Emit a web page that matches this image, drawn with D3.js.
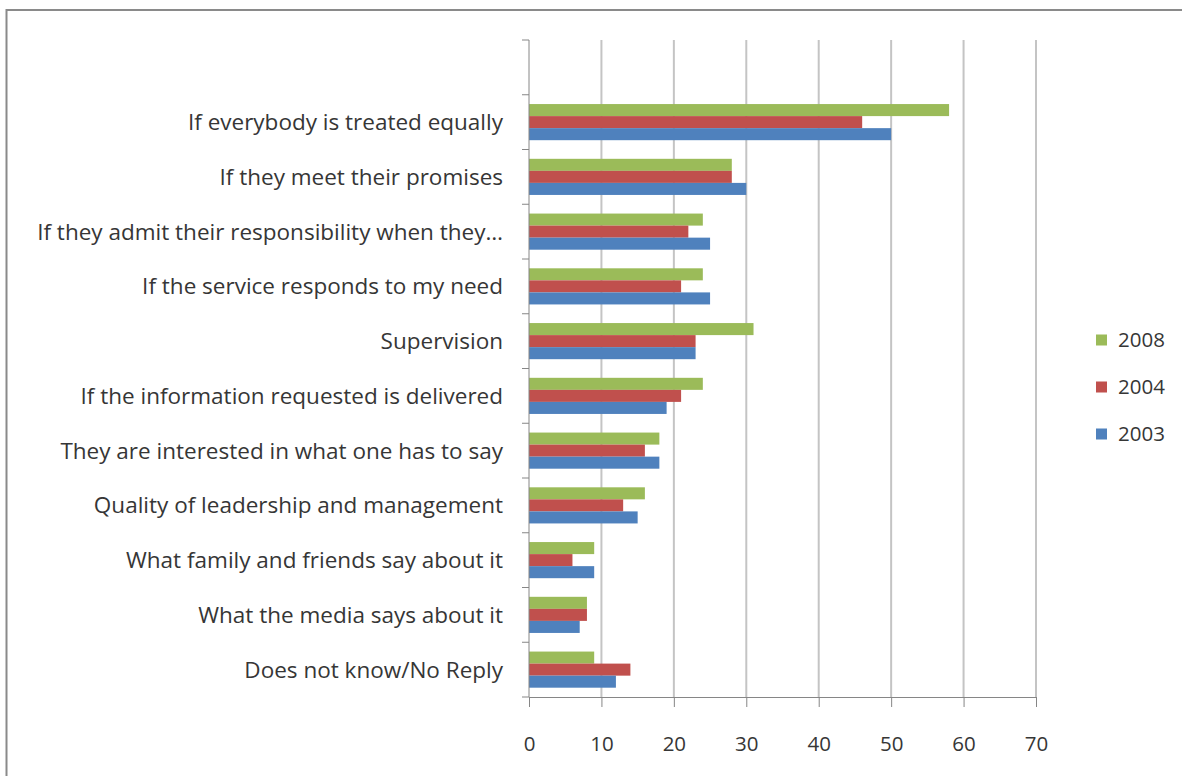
<!DOCTYPE html>
<html>
<head>
<meta charset="utf-8">
<script src="https://cdn.jsdelivr.net/npm/d3@7"></script>
<style>
  html, body { margin: 0; padding: 0; background: #fff; }
  svg { display: block; }
  text { font-family: "Open Sans", Lato, sans-serif; fill: #363636; }
</style>
</head>
<body>
<svg id="chart" width="1182" height="776"></svg>
<script>
// Reasons for trusting a public service, share of answers (%) by survey year
const categories = [
  "If everybody is treated equally",
  "If they meet their promises",
  "If they admit their responsibility when they\u2026",
  "If the service responds to my need",
  "Supervision",
  "If the information requested is delivered",
  "They are interested in what one has to say",
  "Quality of leadership and management",
  "What family and friends say about it",
  "What the media says about it",
  "Does not know/No Reply"
];
const years = ["2008", "2004", "2003"];
const values2008 = [58, 28, 24, 24, 31, 24, 18, 16, 9, 8, 9];
const values2004 = [46, 28, 22, 21, 23, 21, 16, 13, 6, 8, 14];
const values2003 = [50, 30, 25, 25, 23, 19, 18, 15, 9, 7, 12];
const xTicks = [0, 10, 20, 30, 40, 50, 60, 70];
const colors = ["#9BBB59", "#C0504D", "#4F81BD"];

const seriesValues = [values2008, values2004, values2003];

const svg = d3.select("#chart");

// chart frame
svg.append("rect")
  .attr("x", 6.5).attr("y", 10)
  .attr("width", 1200).attr("height", 800)
  .attr("fill", "none")
  .attr("stroke", "#8a8a8a")
  .attr("stroke-width", 2);

const plot = { left: 529, right: 1036, top: 40, bottom: 697 };
// one empty slot sits above the first category
const slots = categories.length + 1;
const step = (plot.bottom - plot.top) / slots;

const x = d3.scaleLinear().domain([0, 70]).range([plot.left, plot.right]);
const y = d3.scaleBand()
  .domain(categories)
  .range([plot.bottom - categories.length * step, plot.bottom])
  .paddingInner(0.34)
  .paddingOuter(0.17);
const ySub = d3.scaleBand().domain(years).range([0, y.bandwidth()]);

// vertical gridlines
svg.append("g")
  .selectAll("line")
  .data(xTicks.filter(d => d > 0))
  .join("line")
  .attr("x1", d => x(d)).attr("x2", d => x(d))
  .attr("y1", plot.top).attr("y2", plot.bottom)
  .attr("stroke", "#c4c4c4")
  .attr("stroke-width", 2);

// bars
const groups = svg.append("g")
  .selectAll("g")
  .data(categories)
  .join("g")
  .attr("transform", d => `translate(0,${y(d)})`);

groups.selectAll("rect")
  .data((c, i) => years.map((yr, s) => ({ yr, s, v: seriesValues[s][i] })))
  .join("rect")
  .attr("x", x(0))
  .attr("y", d => ySub(d.yr))
  .attr("width", d => x(d.v) - x(0))
  .attr("height", ySub.bandwidth())
  .attr("fill", d => colors[d.s]);

// category axis with ticks on the slot boundaries
const axisColor = "#868686";
const boundaries = d3.range(slots + 1).map(i => plot.top + i * step);
const yAxis = svg.append("g");
yAxis.append("line")
  .attr("x1", plot.left).attr("x2", plot.left)
  .attr("y1", plot.top).attr("y2", plot.bottom)
  .attr("stroke", axisColor);
yAxis.selectAll("line.tick")
  .data(boundaries)
  .join("line")
  .attr("class", "tick")
  .attr("x1", plot.left - 7).attr("x2", plot.left)
  .attr("y1", d => d).attr("y2", d => d)
  .attr("stroke", axisColor);
yAxis.selectAll("text")
  .data(categories)
  .join("text")
  .attr("x", plot.left - 26)
  .attr("y", d => y(d) + y.bandwidth() / 2)
  .attr("dy", "0.36em")
  .attr("text-anchor", "end")
  .attr("font-size", 22.5)
  .text(d => d);

// value axis
const xAxis = svg.append("g")
  .attr("transform", `translate(0,${plot.bottom})`)
  .call(d3.axisBottom(x).tickValues(xTicks).tickSize(10).tickSizeOuter(0));
xAxis.select(".domain").attr("stroke", axisColor);
xAxis.selectAll(".tick line").attr("stroke", axisColor);
xAxis.selectAll(".tick text")
  .attr("y", 47)
  .attr("dy", "0.36em")
  .attr("font-size", 20.5)
  .attr("font-family", "'Open Sans', Lato, sans-serif")
  .attr("fill", "#363636");

// legend
const legend = svg.append("g")
  .selectAll("g")
  .data(years)
  .join("g")
  .attr("transform", (d, i) => `translate(1096,${340 + i * 47})`);
legend.append("rect")
  .attr("x", 0).attr("y", -5.5)
  .attr("width", 11).attr("height", 11)
  .attr("fill", (d, i) => colors[i]);
legend.append("text")
  .attr("x", 22).attr("y", 0)
  .attr("dy", "0.36em")
  .attr("font-size", 20.5)
  .text(d => d);
</script>
</body>
</html>
